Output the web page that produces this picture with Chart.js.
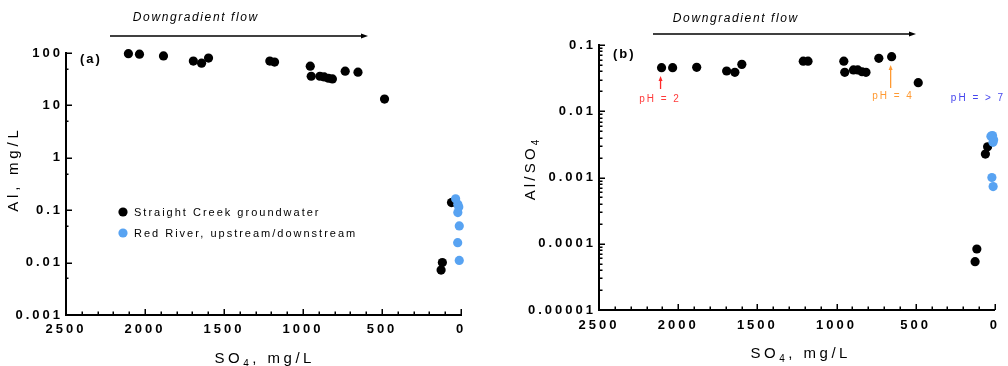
<!DOCTYPE html>
<html><head><meta charset="utf-8">
<script src="https://cdn.jsdelivr.net/npm/chart.js@4.4.1/dist/chart.umd.min.js"></script>
<style>
html,body{margin:0;padding:0;background:#fff;width:1008px;height:366px;overflow:hidden;}
canvas{position:absolute;top:0;}
#ca{left:0;width:500px;height:366px;} #cb{left:500px;width:508px;height:366px;}
</style></head><body>
<canvas id="ca" width="500" height="366"></canvas>
<canvas id="cb" width="508" height="366"></canvas>
<script>
// ---------- data ----------
// Panel (a): Al (mg/L) vs SO4 (mg/L)
const creekSO4_a = [2105, 2035, 1883, 1694, 1642, 1598, 1210, 1180, 954, 948, 893, 866, 839, 814, 733, 652, 484, 46, 60, 118, 126];
const creekAl_a  = [97, 95, 88, 70, 64, 80, 70, 67, 56, 36, 36, 35, 33, 32, 45, 43, 13.2, 0.145, 0.14, 0.010, 0.0072];
const riverSO4_a = [34, 20, 14, 20, 11, 21, 11];
const riverAl_a  = [0.165, 0.13, 0.115, 0.09, 0.05, 0.024, 0.011];
// Panel (b): Al/SO4 ratio vs SO4 (mg/L)
const creekSO4_b = [2105, 2035, 1883, 1694, 1642, 1598, 1210, 1180, 954, 948, 893, 866, 839, 814, 733, 652, 484, 46, 60, 114, 125];
const creekRatio_b = [0.0455, 0.0455, 0.046, 0.0405, 0.0387, 0.051, 0.057, 0.057, 0.057, 0.0387, 0.042, 0.042, 0.0395, 0.0387, 0.063, 0.0667, 0.027, 0.0029, 0.00226, 0.0000833, 0.0000537];
const riverSO4_b = [25, 15, 8, 12, 19, 11];
const riverRatio_b = [0.0042, 0.0043, 0.0037, 0.0034, 0.0010, 0.00073];
// ticks
const xMajorTicks = [2500, 2000, 1500, 1000, 500, 0];
const xMinorTicks = [2400,2300,2200,2100,1900,1800,1700,1600,1400,1300,1200,1100,900,800,700,600,400,300,200,100];
const yTicks_a = [0.001, 0.01, 0.1, 1, 10, 100];
const yLabels_a = ['0.001', '0.01', '0.1', '1', '10', '100'];
const yMinor_a = [0.005, 0.05, 0.5, 5, 50];
const yTicks_b = [0.00001, 0.0001, 0.001, 0.01, 0.1];
const yLabels_b = ['0.00001', '0.0001', '0.001', '0.01', '0.1'];
const yMinor_b = [];
[0.00001, 0.0001, 0.001, 0.01].forEach(d => { for (let k = 2; k <= 9; k++) yMinor_b.push(d * k); });

const seriesNames = ['Straight Creek groundwater', 'Red River, upstream/downstream'];
const BLACK = '#000000', BLUE = '#58a3f2';

function pts(xs, ys) { return xs.map((x, i) => ({x: x, y: ys[i]})); }

function spacedText(ctx, txt, x, y, font, spacing, color, align) {
  ctx.save();
  ctx.font = font; ctx.letterSpacing = spacing + 'px'; ctx.fillStyle = color;
  ctx.textBaseline = 'middle';
  let w = ctx.measureText(txt).width - spacing;
  let sx = align === 'left' ? x : (align === 'right' ? x - w : x - w / 2);
  ctx.textAlign = 'left';
  ctx.fillText(txt, sx, y);
  ctx.restore();
}
// parts: [text, size, dy]
function subText(ctx, parts, cx, cy, rot, spacing) {
  ctx.save();
  ctx.translate(cx, cy); ctx.rotate(rot);
  ctx.fillStyle = '#000'; ctx.textBaseline = 'alphabetic'; ctx.textAlign = 'left';
  ctx.letterSpacing = spacing + 'px';
  let total = 0;
  parts.forEach(p => { ctx.font = p[1] + 'px "Liberation Sans", Arial, sans-serif'; p.w = ctx.measureText(p[0]).width; total += p.w; });
  total -= spacing;
  let x = -total / 2;
  parts.forEach(p => { ctx.font = p[1] + 'px "Liberation Sans", Arial, sans-serif'; ctx.fillText(p[0], x, 5 + p[2]); x += p.w; });
  ctx.restore();
}
function arrow(ctx, x1, y1, x2, y2, color, lw, hl, hw) {
  const a = Math.atan2(y2 - y1, x2 - x1);
  ctx.save();
  ctx.strokeStyle = color; ctx.fillStyle = color; ctx.lineWidth = lw;
  ctx.beginPath(); ctx.moveTo(x1, y1); ctx.lineTo(x2 - Math.cos(a) * hl * 0.8, y2 - Math.sin(a) * hl * 0.8); ctx.stroke();
  ctx.beginPath();
  ctx.moveTo(x2, y2);
  ctx.lineTo(x2 - Math.cos(a) * hl - Math.sin(a) * hw / 2, y2 - Math.sin(a) * hl + Math.cos(a) * hw / 2);
  ctx.lineTo(x2 - Math.cos(a) * hl + Math.sin(a) * hw / 2, y2 - Math.sin(a) * hl - Math.cos(a) * hw / 2);
  ctx.closePath(); ctx.fill();
  ctx.restore();
}

const spacingPlugin = {
  id: 'spacing',
  beforeUpdate(chart) { chart.ctx.letterSpacing = '3px'; },
  beforeDraw(chart) { chart.ctx.letterSpacing = '3px'; }
};

const tickPlugin = {
  id: 'ticksInward',
  afterDraw(chart, args, opts) {
    const ctx = chart.ctx, ca = chart.chartArea, xs = chart.scales.x, ys = chart.scales.y;
    ctx.save();
    ctx.strokeStyle = '#000'; ctx.lineWidth = 1.5;
    ctx.beginPath();
    xMajorTicks.forEach(v => { const p = Math.round(xs.getPixelForValue(v)) + 0.25; ctx.moveTo(p, ca.bottom); ctx.lineTo(p, ca.bottom - 6); });
    xMinorTicks.forEach(v => { const p = Math.round(xs.getPixelForValue(v)) + 0.25; ctx.moveTo(p, ca.bottom); ctx.lineTo(p, ca.bottom - 3.5); });
    opts.yMajor.forEach(v => { const p = Math.round(ys.getPixelForValue(v)) + 0.25; ctx.moveTo(ca.left, p); ctx.lineTo(ca.left + 6, p); });
    opts.yMinor.forEach(v => { const p = Math.round(ys.getPixelForValue(v)) + 0.25; ctx.moveTo(ca.left, p); ctx.lineTo(ca.left + opts.minorLen, p); });
    ctx.stroke();
    ctx.restore();
    if (opts.decor) opts.decor(ctx, chart);
  }
};

function makeChart(id, cfg) {
  return new Chart(document.getElementById(id), {
    type: 'scatter',
    data: { datasets: cfg.datasets },
    options: {
      responsive: false, animation: false, devicePixelRatio: 1,
      layout: { padding: cfg.padding },
      plugins: { legend: { display: false }, tooltip: { enabled: false },
        ticksInward: { yMajor: cfg.yTicks, yMinor: cfg.yMinor, minorLen: cfg.minorLen, decor: cfg.decor } },
      scales: {
        x: {
          type: 'linear', reverse: true, min: 0, max: 2500,
          afterBuildTicks: s => { s.ticks = xMajorTicks.map(v => ({value: v})); },
          afterFit: s => { s.height = cfg.xHeight; },
          grid: { display: false, drawTicks: false },
          border: { display: true, color: '#000', width: 2 },
          ticks: { autoSkip: false, maxRotation: 0, padding: cfg.xPad, color: '#000',
            font: { family: '"Liberation Sans", Arial, sans-serif', size: 13, weight: 'bold' },
            callback: v => String(v) }
        },
        y: {
          type: 'logarithmic', min: cfg.yTicks[0], max: cfg.yTicks[cfg.yTicks.length - 1],
          afterBuildTicks: s => { s.ticks = cfg.yTicks.map(v => ({value: v})); },
          afterFit: s => { s.width = cfg.yWidth; },
          grid: { display: false, drawTicks: false },
          border: { display: true, color: '#000', width: 2 },
          ticks: { autoSkip: false, padding: 3, color: '#000',
            font: { family: '"Liberation Sans", Arial, sans-serif', size: 13, weight: 'bold' },
            callback: (v, i) => cfg.yLabels[i] }
        }
      }
    },
    plugins: [spacingPlugin, tickPlugin]
  });
}

const ds = (data, color) => ({ data: data, backgroundColor: color, borderWidth: 0, pointRadius: 4.6, pointHoverRadius: 4.6, clip: false });

// Panel (a)
makeChart('ca', {
  datasets: [ds(pts(riverSO4_a, riverAl_a), BLUE), ds(pts(creekSO4_a, creekAl_a), BLACK)],
  padding: { left: 6, right: 39, top: 53, bottom: 0 },
  yWidth: 60, xHeight: 51, xPad: 7,
  yTicks: yTicks_a, yLabels: yLabels_a, yMinor: yMinor_a, minorLen: 2.5,
  decor: (ctx) => {
    spacedText(ctx, 'Downgradient flow', 195, 18, 'italic 12px "Liberation Sans", Arial, sans-serif', 1.6, '#000', 'center');
    arrow(ctx, 110, 36, 368, 36, '#000', 1.5, 7, 5);
    spacedText(ctx, '(a)', 80, 59, 'bold 13px "Liberation Sans", Arial, sans-serif', 2, '#000', 'left');
    // legend
    ctx.save();
    ctx.fillStyle = BLACK; ctx.beginPath(); ctx.arc(123, 212, 4.6, 0, Math.PI * 2); ctx.fill();
    ctx.fillStyle = BLUE; ctx.beginPath(); ctx.arc(123, 233, 4.6, 0, Math.PI * 2); ctx.fill();
    ctx.restore();
    spacedText(ctx, seriesNames[0], 134, 213, '11px "Liberation Sans", Arial, sans-serif', 2, '#000', 'left');
    spacedText(ctx, seriesNames[1], 134, 234, '11px "Liberation Sans", Arial, sans-serif', 2, '#000', 'left');
    // axis titles
    subText(ctx, [['SO', 15, 0], ['4', 10, 4], [', mg/L', 15, 0]], 263, 358, 0, 3.5);
    subText(ctx, [['Al, mg/L', 15, 0]], 13, 171, -Math.PI / 2, 3.8);
  }
});

// Panel (b)
makeChart('cb', {
  datasets: [ds(pts(riverSO4_b, riverRatio_b), BLUE), ds(pts(creekSO4_b, creekRatio_b), BLACK)],
  padding: { left: 9, right: 9, top: 45, bottom: 0 },
  yWidth: 90, xHeight: 56, xPad: 8,
  yTicks: yTicks_b, yLabels: yLabels_b, yMinor: yMinor_b, minorLen: 3.5,
  decor: (ctx, chart) => {
    const xs = chart.scales.x;
    spacedText(ctx, 'Downgradient flow', 235, 19, 'italic 12px "Liberation Sans", Arial, sans-serif', 1.6, '#000', 'center');
    arrow(ctx, 153, 34, 416, 34, '#000', 1.5, 7, 5);
    spacedText(ctx, '(b)', 113, 54, 'bold 13px "Liberation Sans", Arial, sans-serif', 2, '#000', 'left');
    const f = '10px "Liberation Sans", Arial, sans-serif';
    const x2 = xs.getPixelForValue(creekSO4_b[0]) - 1;
    arrow(ctx, x2, 89, x2, 76, '#ff2a2a', 1.3, 5, 4);
    spacedText(ctx, 'pH = 2', 159, 99, f, 2, '#ff3b3b', 'center');
    const x4 = xs.getPixelForValue(creekSO4_b[15]) - 1;
    arrow(ctx, x4, 88, x4, 65, '#ff9a33', 1.3, 5, 4);
    spacedText(ctx, 'pH = 4', 392, 96, f, 2, '#ff9a33', 'center');
    spacedText(ctx, 'pH = > 7', 477, 98, f, 2, '#4646ee', 'center');
    subText(ctx, [['SO', 15, 0], ['4', 10, 4], [', mg/L', 15, 0]], 299, 353, 0, 3.5);
    subText(ctx, [['Al/SO', 15, 0], ['4', 10, 4]], 30, 170, -Math.PI / 2, 3.2);
  }
});
</script>
</body></html>
